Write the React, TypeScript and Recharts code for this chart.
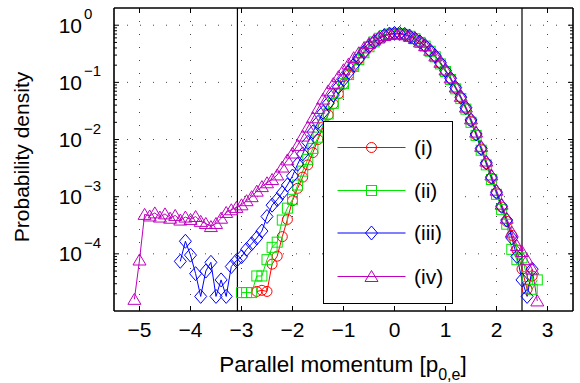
import React from 'react';
import { LineChart, Line, XAxis, YAxis, CartesianGrid, ReferenceLine } from 'recharts';

// parallel momentum grid [p_0,e]
const momentum = [
  -5.1, -5.0, -4.9, -4.8, -4.7, -4.6, -4.5, -4.4, -4.3, -4.2, -4.1, -4.0, -3.9, -3.8, -3.7, -3.6, -3.5,
  -3.4, -3.3, -3.2, -3.1, -3.0, -2.9, -2.8, -2.7, -2.6, -2.5, -2.4, -2.3, -2.2, -2.1, -2.0, -1.9, -1.8,
  -1.7, -1.6, -1.5, -1.4, -1.3, -1.2, -1.1, -1.0, -0.9, -0.8, -0.7, -0.6, -0.5, -0.4, -0.3, -0.2, -0.1,
  0, 0.1, 0.2, 0.3, 0.4, 0.5, 0.6, 0.7, 0.8, 0.9, 1.0, 1.1, 1.2, 1.3, 1.4, 1.5, 1.6, 1.7, 1.8, 1.9,
  2.0, 2.1, 2.2, 2.3, 2.4, 2.5, 2.6, 2.7, 2.8, 2.9,
];

// (i)
const densityI = [
  null, null, null, null, null, null, null, null, null, null, null, null, null, null, null, null, null,
  null, null, null, null, null, null, null, 2.2e-5, 2.3e-5, 2.2e-5, 6.6e-5, 9.1e-5, 2.0e-4, 4.0e-4, 8.5e-4, 1.4e-3, 2.2e-3,
  3.6e-3, 5.9e-3, 0.010, 0.0166, 0.027, 0.042, 0.063, 0.093, 0.135, 0.186, 0.25, 0.33, 0.42, 0.50, 0.59, 0.66, 0.70,
  0.71, 0.71, 0.68, 0.63, 0.575, 0.50, 0.43, 0.355, 0.28, 0.214, 0.158, 0.115, 0.079, 0.054, 0.035, 0.021, 0.012, 0.0068, 0.0038, 0.0021,
  0.00117, 6.6e-4, 3.7e-4, 2.1e-4, 1.17e-4, 5.4e-5, 2.4e-5, 4.1e-5, null, null,
];

// (ii)
const densityII = [
  null, null, null, null, null, null, null, null, null, null, null, null, null, null, null, null, null,
  null, null, null, null, 2.1e-5, 2.1e-5, 2.1e-5, 4.1e-5, 4.1e-5, 7.9e-5, 1.3e-4, 1.6e-4, 3.9e-4, 6.3e-4, 9.0e-4, 1.6e-3, 2.8e-3,
  4.5e-3, 7.0e-3, 0.011, 0.018, 0.028, 0.043, 0.065, 0.095, 0.137, 0.19, 0.25, 0.33, 0.42, 0.51, 0.59, 0.66, 0.70,
  0.72, 0.71, 0.69, 0.64, 0.58, 0.50, 0.43, 0.35, 0.28, 0.21, 0.155, 0.112, 0.077, 0.052, 0.034, 0.020, 0.0118, 0.0065, 0.0036, 0.0020,
  0.0011, 6.0e-4, 3.3e-4, 1.2e-4, 7.9e-5, 8.5e-5, 4.0e-5, 2.4e-5, 3.5e-5, null,
];

// (iii)
const densityIII = [
  null, null, null, null, null, null, null, null, null, 7.4e-5, 1.66e-4, 9.5e-5, 4.5e-5, 1.8e-5, 5.0e-5, 7.1e-5, 1.8e-5,
  3.5e-5, 1.8e-5, 6.0e-5, 7.6e-5, 8.9e-5, 1.2e-4, 1.5e-4, 1.9e-4, 2.5e-4, 4.5e-4, 7.1e-4, 8.9e-4, 1.17e-3, 1.6e-3, 2.3e-3, 3.7e-3, 5.6e-3,
  8.9e-3, 0.0135, 0.020, 0.030, 0.043, 0.060, 0.083, 0.112, 0.15, 0.20, 0.26, 0.34, 0.43, 0.51, 0.59, 0.66, 0.70,
  0.72, 0.72, 0.69, 0.64, 0.58, 0.51, 0.44, 0.36, 0.29, 0.22, 0.16, 0.118, 0.081, 0.055, 0.036, 0.022, 0.0125, 0.0070, 0.0039, 0.0022,
  0.0012, 6.8e-4, 3.9e-4, 1.9e-4, 9.0e-5, 3.5e-5, 1.8e-5, 5.4e-5, null, null,
];

// (iv)
const densityIV = [
  1.6e-5, 7.8e-5, 4.9e-4, 4.6e-4, 5.2e-4, 4.4e-4, 5.0e-4, 4.2e-4, 4.7e-4, 3.9e-4, 4.4e-4, 4.0e-4, 4.5e-4, 3.7e-4, 3.4e-4, 3.0e-4, 3.4e-4,
  4.2e-4, 5.3e-4, 5.9e-4, 6.5e-4, 7.2e-4, 8.5e-4, 1.0e-3, 1.25e-3, 1.5e-3, 1.75e-3, 2.0e-3, 2.4e-3, 3.3e-3, 4.4e-3, 5.8e-3, 7.9e-3, 0.0115,
  0.0165, 0.024, 0.035, 0.051, 0.071, 0.095, 0.126, 0.166, 0.21, 0.27, 0.33, 0.40, 0.48, 0.55, 0.62, 0.66, 0.69,
  0.71, 0.70, 0.68, 0.64, 0.585, 0.51, 0.44, 0.365, 0.29, 0.225, 0.165, 0.12, 0.083, 0.057, 0.037, 0.023, 0.0135, 0.0076, 0.0042, 0.0024,
  0.0013, 7.4e-4, 4.2e-4, 2.4e-4, 1.4e-4, 1.1e-4, 7.9e-5, 5.4e-5, 1.5e-5, null,
];

const seriesNames = ['(i)', '(ii)', '(iii)', '(iv)'];
const xTicks = [-5, -4, -3, -2, -1, 0, 1, 2, 3];
const yTicks = [1e-4, 1e-3, 1e-2, 1e-1, 1];
const decades = [1e-5, 1e-4, 1e-3, 1e-2, 1e-1];
const minorMults = [2, 3, 4, 5, 6, 7, 8, 9];
const yMinorTicks = decades.flatMap((d) => minorMults.map((m) => m * d));
const yAllTicks = [...yMinorTicks, ...yTicks].sort((a, b) => a - b);
const cutoffs = [-3.08, 2.5];

const FONT = '"Liberation Sans", Arial, Helvetica, sans-serif';
const RED = '#ff0000';
const GREEN = '#00e600';
const BLUE = '#0000ff';
const MAGENTA = '#bf00bf';

// plot frame
const LEFT = 114;
const RIGHT = 573;
const TOP = 8;
const BOTTOM = 311;

const styles = [
  { key: 'i', color: RED, shape: 'circle' },
  { key: 'ii', color: GREEN, shape: 'square' },
  { key: 'iii', color: BLUE, shape: 'diamond' },
  { key: 'iv', color: MAGENTA, shape: 'triangle' },
];

const data = momentum.map((x, k) => ({
  x,
  i: densityI[k],
  ii: densityII[k],
  iii: densityIII[k],
  iv: densityIV[k],
}));

function Marker({ shape, color, cx, cy }: { shape: string; color: string; cx: number; cy: number }) {
  const common = { fill: 'none', stroke: color, strokeWidth: 1 };
  if (shape === 'circle') return <circle cx={cx} cy={cy} r={5} {...common} />;
  if (shape === 'square') return <rect x={cx - 5} y={cy - 5} width={10} height={10} {...common} />;
  if (shape === 'diamond')
    return <polygon points={`${cx},${cy - 7} ${cx + 6},${cy} ${cx},${cy + 7} ${cx - 6},${cy}`} {...common} />;
  return <polygon points={`${cx},${cy - 6} ${cx + 6.5},${cy + 5} ${cx - 6.5},${cy + 5}`} {...common} />;
}

const makeDot = (shape: string, color: string) => (p: any) => {
  const { cx, cy, index } = p;
  if (cx == null || cy == null || Number.isNaN(cy)) return <g key={index} />;
  return (
    <g key={index}>
      <Marker shape={shape} color={color} cx={cx} cy={cy} />
    </g>
  );
};

const minus = (v: number) => (v < 0 ? `\u2212${Math.abs(v)}` : `${v}`);
const isMajor = (v: number) => yTicks.some((t) => Math.abs(t - v) / t < 1e-6);

const XTickBottom = (p: any) => (
  <g>
    <line x1={p.x} x2={p.x} y1={BOTTOM} y2={BOTTOM - 5} stroke="#000" />
    <text x={p.x} y={337} textAnchor="middle" fontSize={21} fontFamily={FONT} fill="#000">
      {minus(p.payload.value)}
    </text>
  </g>
);

const XTickTop = (p: any) => <line x1={p.x} x2={p.x} y1={TOP} y2={TOP + 5} stroke="#000" />;

const YTickLeft = (p: any) => {
  const v = p.payload.value;
  if (!isMajor(v)) return <line x1={LEFT} x2={LEFT + 3} y1={p.y} y2={p.y} stroke="#000" />;
  const e = Math.round(Math.log10(v));
  return (
    <g>
      <line x1={LEFT} x2={LEFT + 5} y1={p.y} y2={p.y} stroke="#000" />
      <text x={82} y={p.y + 7.5} textAnchor="end" fontSize={21} fontFamily={FONT} fill="#000">
        10
      </text>
      <text x={84} y={p.y - 6} textAnchor="start" fontSize={15} fontFamily={FONT} fill="#000">
        {minus(e)}
      </text>
    </g>
  );
};

const YTickRight = (p: any) => {
  const len = isMajor(p.payload.value) ? 5 : 3;
  return <line x1={RIGHT} x2={RIGHT - len} y1={p.y} y2={p.y} stroke="#000" />;
};

function LegendBox() {
  const rowY = [25.5, 68.5, 111, 154.5];
  return (
    <div
      style={{
        position: 'absolute',
        left: 323,
        top: 121,
        width: 130,
        height: 183,
        boxSizing: 'border-box',
        border: '1.5px solid #000',
        background: '#fff',
      }}
    >
      <svg width={127} height={180} style={{ display: 'block' }}>
        {styles.map((s, k) => (
          <g key={s.key}>
            <line x1={13.5} x2={81.5} y1={rowY[k]} y2={rowY[k]} stroke={s.color} strokeWidth={1} />
            <Marker shape={s.shape} color={s.color} cx={47.5} cy={rowY[k]} />
            <text x={90} y={rowY[k] + 7} fontSize={21} fontFamily={FONT} fill="#000">
              {seriesNames[k]}
            </text>
          </g>
        ))}
      </svg>
    </div>
  );
}

const axisLine = { stroke: '#000', strokeWidth: 1.6 };

export default function App() {
  return (
    <div style={{ position: 'absolute', left: 0, top: 0, width: 580, height: 383, background: '#fff' }}>
      <LineChart width={580} height={383} data={data} margin={{ top: 0, right: 0, bottom: 0, left: 0 }}>
        <CartesianGrid stroke="#444" strokeDasharray="1 12" horizontalValues={yTicks} verticalValues={xTicks} />
        <XAxis
          dataKey="x"
          type="number"
          domain={[-5.5, 3.5]}
          ticks={xTicks}
          allowDataOverflow
          height={72}
          tick={XTickBottom}
          tickLine={false}
          axisLine={axisLine}
        />
        <XAxis
          xAxisId="top"
          orientation="top"
          dataKey="x"
          type="number"
          domain={[-5.5, 3.5]}
          ticks={xTicks}
          allowDataOverflow
          height={8}
          tick={XTickTop}
          tickLine={false}
          axisLine={axisLine}
        />
        <YAxis
          scale="log"
          type="number"
          domain={[1e-5, 2]}
          ticks={yAllTicks}
          interval={0}
          allowDataOverflow
          width={114}
          tick={YTickLeft}
          tickLine={false}
          axisLine={axisLine}
        />
        <YAxis
          yAxisId="right"
          orientation="right"
          scale="log"
          type="number"
          domain={[1e-5, 2]}
          ticks={yAllTicks}
          interval={0}
          allowDataOverflow
          width={7}
          tick={YTickRight}
          tickLine={false}
          axisLine={axisLine}
        />
        {cutoffs.map((c) => (
          <ReferenceLine key={c} x={c} stroke="#000" strokeWidth={1.2} />
        ))}
        {styles.map((s) => (
          <Line
            key={s.key}
            dataKey={s.key}
            stroke={s.color}
            strokeWidth={1}
            dot={makeDot(s.shape, s.color)}
            activeDot={false}
            isAnimationActive={false}
            connectNulls={false}
          />
        ))}
      </LineChart>
      <LegendBox />
      <svg width={580} height={383} style={{ position: 'absolute', left: 0, top: 0, pointerEvents: 'none' }}>
        <text x={343} y={372} textAnchor="middle" fontSize={22.5} fontFamily={FONT} fill="#000">
          Parallel momentum [p
          <tspan fontSize={16} dy={8}>0,e</tspan>
          <tspan dy={-8}>]</tspan>
        </text>
        <text transform="translate(29,157) rotate(-90)" textAnchor="middle" fontSize={21} fontFamily={FONT} fill="#000">
          Probability density
        </text>
      </svg>
    </div>
  );
}
